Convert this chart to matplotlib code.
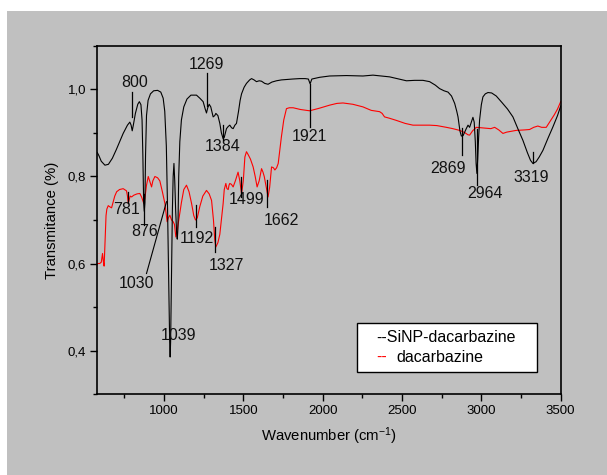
import numpy as np
import matplotlib
matplotlib.use("Agg")
import matplotlib.pyplot as plt
from matplotlib.patches import Rectangle
from matplotlib.ticker import MultipleLocator, FuncFormatter

plt.rcParams['font.family'] = ['Liberation Sans', 'DejaVu Sans']
plt.rcParams['mathtext.default'] = 'regular'

# FTIR spectrum, SiNP-dacarbazine (wavenumber cm-1, transmittance)
sinp_wn = [580, 590, 605, 628, 650, 675, 700, 743, 770, 785, 793, 800, 807, 820, 835, 845, 855,
           862, 867, 872, 876, 880, 884, 890, 900, 915, 935, 960, 980, 995, 1005, 1015, 1023,
           1030, 1036, 1039, 1042, 1047, 1053, 1058, 1063, 1068, 1074, 1080, 1084, 1088, 1093,
           1100, 1110, 1125, 1145, 1170, 1205, 1226, 1247, 1260, 1268, 1276, 1285, 1295, 1310,
           1320, 1327, 1340, 1352, 1362, 1373, 1380, 1394, 1405, 1415, 1426, 1436, 1447, 1457,
           1470, 1480, 1489, 1505, 1520, 1540, 1552, 1568, 1583, 1600, 1615, 1635, 1656, 1680,
           1709, 1740, 1772, 1810, 1855, 1890, 1910, 1921, 1932, 1981, 2044, 2150, 2254, 2317,
           2370, 2422, 2470, 2528, 2580, 2632, 2674, 2710, 2737, 2765, 2790, 2812, 2832, 2845,
           2853, 2865, 2874, 2885, 2895, 2905, 2916, 2926, 2937, 2947, 2955, 2962, 2967, 2972,
           2977, 2983, 2989, 3000, 3010, 3025, 3042, 3065, 3094, 3130, 3165, 3199, 3230, 3262,
           3290, 3310, 3325, 3345, 3365, 3388, 3420, 3451, 3480, 3500]
sinp_t = [0.855, 0.848, 0.835, 0.826, 0.828, 0.842, 0.862, 0.899, 0.918, 0.925, 0.918, 0.905,
          0.918, 0.945, 0.966, 0.972, 0.965, 0.93, 0.85, 0.74, 0.72, 0.74, 0.85, 0.94, 0.975,
          0.99, 0.997, 0.998, 0.994, 0.98, 0.95, 0.87, 0.72, 0.56, 0.42, 0.385, 0.42, 0.55,
          0.72, 0.80, 0.83, 0.79, 0.72, 0.67, 0.656, 0.68, 0.80, 0.88, 0.93, 0.96, 0.978,
          0.987, 0.987, 0.98, 0.972, 0.955, 0.946, 0.958, 0.966, 0.96, 0.937, 0.94, 0.945,
          0.94, 0.922, 0.90, 0.887, 0.89, 0.91, 0.915, 0.918, 0.912, 0.91, 0.918, 0.922,
          0.95, 0.975, 0.99, 1.005, 1.014, 1.022, 1.025, 1.022, 1.018, 1.02, 1.019, 1.014,
          1.012, 1.017, 1.02, 1.022, 1.023, 1.024, 1.025, 1.025, 1.024, 1.013, 1.024, 1.028,
          1.031, 1.032, 1.031, 1.033, 1.031, 1.029, 1.025, 1.02, 1.021, 1.021, 1.018, 1.01,
          1.002, 0.997, 0.994, 0.985, 0.968, 0.95, 0.937, 0.905, 0.893, 0.894, 0.902, 0.91,
          0.918, 0.913, 0.925, 0.936, 0.925, 0.88, 0.83, 0.807, 0.84, 0.89, 0.93, 0.965,
          0.983, 0.99, 0.993, 0.992, 0.985, 0.97, 0.955, 0.937, 0.91, 0.883, 0.855, 0.837,
          0.83, 0.834, 0.845, 0.86, 0.888, 0.914, 0.94, 0.962]

# FTIR spectrum, dacarbazine
dac_wn = [580, 595, 605, 613, 618, 623, 628, 635, 640, 649, 660, 670, 680, 690, 702, 720, 743,
          764, 770, 775, 780, 787, 796, 810, 830, 848, 860, 873, 880, 890, 901, 910, 922, 930,
          943, 960, 974, 990, 1006, 1020, 1028, 1037, 1048, 1058, 1066, 1075, 1085, 1096, 1110,
          1125, 1142, 1158, 1174, 1188, 1199, 1210, 1226, 1245, 1268, 1285, 1300, 1312, 1320,
          1327, 1340, 1352, 1362, 1373, 1380, 1390, 1397, 1405, 1410, 1415, 1425, 1436, 1450,
          1467, 1478, 1489, 1500, 1510, 1520, 1531, 1545, 1562, 1575, 1587, 1600, 1615, 1624,
          1632, 1645, 1656, 1666, 1678, 1690, 1699, 1710, 1720, 1730, 1740, 1755, 1772, 1790,
          1814, 1860, 1918, 1980, 2044, 2090, 2128, 2190, 2254, 2306, 2359, 2375, 2390, 2420,
          2464, 2520, 2569, 2620, 2674, 2720, 2780, 2820, 2863, 2895, 2915, 2926, 2945, 2968,
          3000, 3031, 3060, 3084, 3110, 3136, 3160, 3220, 3270, 3304, 3330, 3356, 3380, 3409,
          3430, 3460, 3480, 3500]
dac_t = [0.600, 0.600, 0.603, 0.623, 0.605, 0.594, 0.64, 0.71, 0.725, 0.733, 0.73, 0.728,
         0.742, 0.755, 0.765, 0.770, 0.772, 0.767, 0.755, 0.738, 0.745, 0.755, 0.753, 0.757,
         0.76, 0.761, 0.752, 0.738, 0.75, 0.78, 0.80, 0.79, 0.776, 0.79, 0.80, 0.797, 0.79,
         0.765, 0.738, 0.696, 0.705, 0.711, 0.70, 0.696, 0.69, 0.661, 0.68, 0.707, 0.74, 0.77,
         0.78, 0.765, 0.738, 0.71, 0.70, 0.705, 0.731, 0.755, 0.768, 0.76, 0.745, 0.70, 0.655,
         0.638, 0.648, 0.667, 0.70, 0.738, 0.77, 0.784, 0.772, 0.77, 0.78, 0.784, 0.782, 0.776,
         0.79, 0.81, 0.79, 0.76, 0.79, 0.845, 0.857, 0.85, 0.84, 0.822, 0.80, 0.776, 0.79,
         0.818, 0.81, 0.80, 0.775, 0.753, 0.775, 0.822, 0.82, 0.815, 0.82, 0.83, 0.86, 0.891,
         0.93, 0.956, 0.958, 0.958, 0.954, 0.951, 0.957, 0.964, 0.968, 0.969, 0.966, 0.96,
         0.952, 0.949, 0.945, 0.937, 0.934, 0.929, 0.922, 0.918, 0.918, 0.918, 0.917, 0.913,
         0.91, 0.906, 0.901, 0.896, 0.895, 0.905, 0.913, 0.912, 0.911, 0.91, 0.913, 0.907,
         0.899, 0.902, 0.906, 0.907, 0.908, 0.913, 0.916, 0.913, 0.913, 0.925, 0.942, 0.955,
         0.972]

# peak labels: text, text position (wn, T), marker line (wn, T from, T to)
peak_text = ['800', '1269', '1384', '1921', '781', '876', '1192', '1327', '1499', '1662',
             '2869', '2964', '3319', '1039']
peak_pos = [(817, 1.017), (1268, 1.058), (1369, 0.870), (1919, 0.891), (764, 0.725),
            (880, 0.673), (1205, 0.657), (1394, 0.596), (1520, 0.746), (1741, 0.698),
            (2790, 0.818), (3021, 0.761), (3315, 0.798), (1089, 0.435)]
peak_line = [(798, 0.994, 0.937), (1272, 1.037, 0.963), (1375, 0.918, 0.885),
             (1921, 1.013, 0.914), (776, 0.765, 0.738), (875, 0.76, 0.688),
             (1199, 0.734, 0.684), (1322, 0.683, 0.627), (1484, 0.799, 0.753),
             (1652, 0.792, 0.730), (2876, 0.911, 0.849), (2972, 0.91, 0.780),
             (3325, 0.857, 0.830), None]

fig = plt.figure(figsize=(6.07, 4.75), dpi=100)
fig.patch.set_facecolor('white')
panel = Rectangle((7 / 607, 0), 1 - 7 / 607, 1 - 11 / 475, transform=fig.transFigure,
                  facecolor='#c0c0c0', edgecolor='none', zorder=-10)
fig.add_artist(panel)

ax = fig.add_axes([0.1603, 0.1705, 0.7634, 0.7327])
ax.set_facecolor('#c0c0c0')

ax.plot(sinp_wn, sinp_t, color='black', lw=0.8, zorder=3)
ax.plot(dac_wn, dac_t, color='red', lw=0.8, zorder=2)

for txt, (tx, ty), ln in zip(peak_text, peak_pos, peak_line):
    ax.text(tx, ty, txt, ha='center', va='center', fontsize=11.5, color='#111111', zorder=4)
    if ln is not None:
        ax.plot([ln[0], ln[0]], [ln[1], ln[2]], color='black', lw=0.9, zorder=4)

# slanted leader for 1030
ax.plot([890, 1016], [0.577, 0.742], color='black', lw=0.8, zorder=4)
ax.text(827, 0.554, '1030', ha='center', va='center', fontsize=11.5, color='#111111', zorder=4)

ax.set_xlim(580, 3500)
ax.set_ylim(0.3, 1.1)
ax.xaxis.set_major_locator(MultipleLocator(500))
ax.xaxis.set_minor_locator(MultipleLocator(250))
ax.yaxis.set_major_locator(MultipleLocator(0.2))
ax.yaxis.set_minor_locator(MultipleLocator(0.1))
ax.yaxis.set_major_formatter(FuncFormatter(lambda v, p: f'{v:.1f}'.replace('.', ',')))
ax.tick_params(which='major', length=5, width=1, labelsize=9.5, pad=3, colors='black')
ax.tick_params(which='minor', length=3, width=1)
for s in ax.spines.values():
    s.set_linewidth(1.2)

ax.set_xlabel('Wavenumber (cm$^{-1}$)', fontsize=10.7, labelpad=6)
ax.set_ylabel('Transmitance (%)', fontsize=10.7, labelpad=6)

# legend box
ax.add_patch(Rectangle((0.561, 0.064), 0.387, 0.141, transform=ax.transAxes,
                       facecolor='white', edgecolor='black', lw=1.0, zorder=5))
ax.text(0.602, 0.161, '--SiNP-dacarbazine', transform=ax.transAxes, fontsize=11.5,
        va='center', ha='left', zorder=6)
ax.text(0.602, 0.104, '--', transform=ax.transAxes, fontsize=11.5, color='red',
        va='center', ha='left', zorder=6)
ax.text(0.645, 0.104, 'dacarbazine', transform=ax.transAxes, fontsize=11.5,
        va='center', ha='left', zorder=6)

fig.savefig('out.png', dpi=100)
